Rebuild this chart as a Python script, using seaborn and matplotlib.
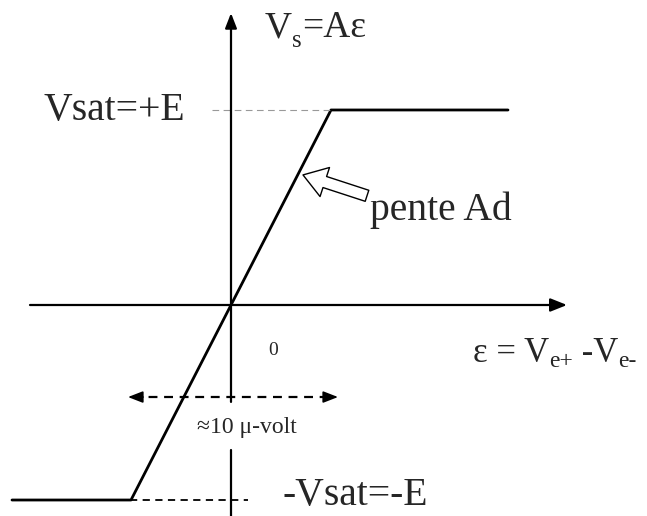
import matplotlib
matplotlib.use("Agg")
import matplotlib.pyplot as plt
import seaborn as sns
import pandas as pd

# Transfer characteristic of an op-amp: Vs = A*eps, clipped at +/-E
eps = [-10.95, -5.0, 5.0, 13.85]
vs = [-1.0, -1.0, 1.0, 1.0]

sns.set_style("white")
plt.rcParams["font.family"] = ["Liberation Serif", "DejaVu Serif"]

fig = plt.figure(figsize=(6.47, 5.16), dpi=100)
ax = fig.add_axes([0, 0, 1, 1])
ax.set_xlim(-11.55, 20.8)
ax.set_ylim(-1.082, 1.564)
ax.axis("off")

df = pd.DataFrame({"eps": eps, "vs": vs})
sns.lineplot(data=df, x="eps", y="vs", ax=ax, color="black", lw=2.0,
             estimator=None, sort=False)

head = "-|>,head_length=0.9,head_width=0.35"

# axes with arrowheads
ax.annotate("", xy=(16.8, 0), xytext=(-10.05, 0),
            arrowprops=dict(arrowstyle="-|>,head_length=1.0,head_width=0.4",
                            color="black", lw=1.6, shrinkA=0, shrinkB=0))
ax.annotate("", xy=(0, 1.497), xytext=(0, -0.497),
            arrowprops=dict(arrowstyle=head, color="black", lw=1.6,
                            shrinkA=0, shrinkB=0))
ax.plot([0, 0], [-0.744, -1.082], color="black", lw=1.6)

# saturation guide lines
ax.plot([-0.95, 4.95], [1, 1], color="#999999", lw=0.8, ls=(0, (6, 4)))
ax.plot([-5.05, 0.85], [-1, -1], color="black", lw=1.3, ls=(0, (4, 3)))

# +/- 10 microvolt span
ax.plot([-4.9, 5.2], [-0.472, -0.472], color="black", lw=1.6, ls=(0, (4, 3)))
for tip, base in [(-5.15, -4.4), (5.35, 4.6)]:
    ax.annotate("", xy=(tip, -0.472), xytext=(base, -0.472),
                arrowprops=dict(arrowstyle=head, color="black", lw=1.2,
                                shrinkA=0, shrinkB=0))

# hollow arrow pointing at the slope
ax.annotate("", xy=(3.6, 0.667), xytext=(6.8, 0.56),
            arrowprops=dict(arrowstyle="simple,head_length=0.75,head_width=1.0,tail_width=0.38",
                            fc="white", ec="black", lw=1.0, shrinkA=0, shrinkB=0,
                            mutation_scale=22))


def chain(x, y, parts):
    """Write text pieces one after another on a shared baseline.
    Each piece is (string, fontsize, vertical offset in points)."""
    s, size, dy = parts[0]
    prev = ax.text(x, y, s, fontsize=size, ha="left", va="baseline")
    for s, size, dy in parts[1:]:
        prev = ax.annotate(s, xy=(1, y), xycoords=(prev, "data"),
                           xytext=(0, dy), textcoords="offset points",
                           fontsize=size, ha="left", va="baseline")


# labels
chain(1.7, 1.374, [("V", 27, 0), ("s", 18, -7), ("=Aε", 27, 0)])
ax.text(-9.4, 0.949, "Vsat=+E", fontsize=28.5, ha="left", va="baseline")
ax.text(6.95, 0.436, "pente Ad", fontsize=28.5, ha="left", va="baseline")
chain(12.1, -0.292, [("ε = V", 25, 0), ("e+", 17, -4), (" -V", 25, 0), ("e-", 17, -4)])
ax.text(1.85, -0.256, "0", fontsize=14, ha="left", va="baseline")
ax.text(-1.7, -0.656, "≈10 μ-volt", fontsize=17, ha="left", va="baseline")
ax.text(2.6, -1.026, "-Vsat=-E", fontsize=28.5, ha="left", va="baseline")

fig.savefig("out.png", dpi=100)
